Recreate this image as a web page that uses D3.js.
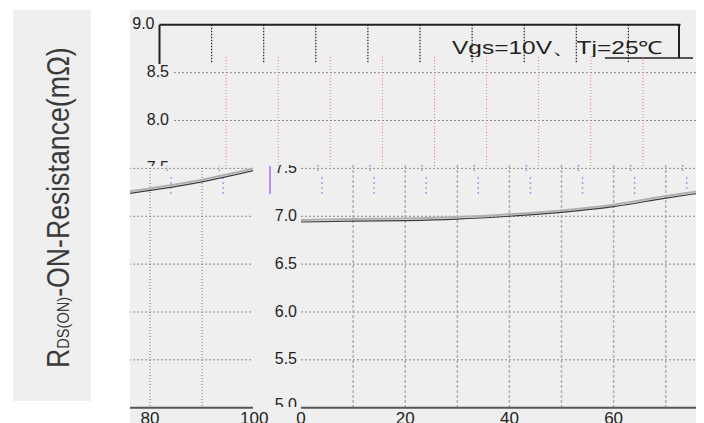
<!DOCTYPE html>
<html><head><meta charset="utf-8">
<script src="https://cdn.jsdelivr.net/npm/d3@7/dist/d3.min.js"></script>
<style>
html,body{margin:0;padding:0;background:#fff;}
svg{display:block;font-family:"Liberation Sans",Arial,sans-serif;}
</style></head>
<body>
<svg id="chart" width="704" height="423"></svg>
<script>
// ---- data ----
const temps = [0, 10, 20, 30, 40, 50, 60, 70, 80, 90, 100];
const rdson = [6.94, 6.95, 6.955, 6.97, 7.0, 7.04, 7.10, 7.19, 7.27, 7.36, 7.48];
const yTicks = [5.0, 5.5, 6.0, 6.5, 7.0, 7.5, 8.0, 8.5, 9.0];
const xTicks = [0, 20, 40, 60, 80, 100];
const xGrid = [10, 20, 30, 40, 50, 60, 70, 80, 90];
const legendText = "Vgs=10V、Tj=25℃";
const yTitleMain = "R";
const yTitleSub = "DS(ON)";
const yTitleRest = "-ON-Resistance(mΩ)";

const svg = d3.select("#chart");
const fmt = d3.format(".1f");
const y = d3.scaleLinear().domain([5, 9]).range([407.7, 24.8]);
const plotW = 521;
const xs = left => d3.scaleLinear().domain([0, 100]).range([left, left + plotW]);

const defs = svg.append("defs");
function clip(id, x, yy, w, h) {
  defs.append("clipPath").attr("id", id).append("rect")
    .attr("x", x).attr("y", yy).attr("width", w).attr("height", h);
  return `url(#${id})`;
}

// backgrounds
svg.append("rect").attr("x", 13).attr("y", 10).attr("width", 78).attr("height", 391).attr("fill", "#efefef");
svg.append("rect").attr("x", 130).attr("y", 10).attr("width", 566).attr("height", 413).attr("fill", "#efefef");

// y title
const yt = svg.append("text")
  .attr("transform", "translate(68.5,368) rotate(-90) scale(0.86,1)")
  .attr("fill", "#3a3a3a").attr("font-size", 31);
yt.append("tspan").text(yTitleMain);
yt.append("tspan").attr("font-size", 17).text(yTitleSub);
yt.append("tspan").text(yTitleRest);

const line = x => d3.line().x((d, i) => x(temps[i])).y(d => y(d)).curve(d3.curveMonotoneX);

// ---------- top slice (frame, ticks, 9.0) ----------
{
  const x = xs(159.5);
  const g = svg.append("g").attr("clip-path", clip("cTop", 130, 10, 566, 54));
  g.selectAll("line.tk").data(xGrid).join("line")
    .attr("x1", d => x(d)).attr("x2", d => x(d)).attr("y1", y(9)).attr("y2", 63)
    .attr("stroke", "#222").attr("stroke-width", 1.2).attr("stroke-dasharray", "1.5,1.5");
  g.append("line").attr("x1", x(0)).attr("x2", x(100)).attr("y1", y(9)).attr("y2", y(9))
    .attr("stroke", "#222").attr("stroke-width", 2);
  g.append("line").attr("x1", x(0)).attr("x2", x(0)).attr("y1", y(9)).attr("y2", 66)
    .attr("stroke", "#222").attr("stroke-width", 2);
  g.append("line").attr("x1", x(100) - 1.5).attr("x2", x(100) - 1.5).attr("y1", y(9)).attr("y2", 58)
    .attr("stroke", "#222").attr("stroke-width", 2);
  g.selectAll("text").data(yTicks.filter(d => d === 9)).join("text")
    .attr("x", x(0) - 5).attr("y", d => y(d) - 1).attr("dy", "0.35em")
    .attr("text-anchor", "end").attr("font-size", 16).attr("fill", "#222").text(fmt);
  const lg = svg.append("g").attr("clip-path", clip("cLeg", 130, 10, 566, 47));
  lg.append("text").attr("x", 452).attr("y", 53.5).attr("font-size", 18).attr("fill", "#222")
    .attr("textLength", 211).attr("lengthAdjust", "spacingAndGlyphs").text(legendText);
  svg.append("line").attr("x1", 605).attr("x2", 693).attr("y1", 58).attr("y2", 58)
    .attr("stroke", "#222").attr("stroke-width", 1.5);
}

// ---------- upper slice (red verticals, 8.5 / 8.0) ----------
{
  const x = xs(174);
  const g = svg.append("g").attr("clip-path", clip("cRed", 130, 57, 566, 109));
  g.selectAll("line.h").data(yTicks.filter(d => d >= 7.5 && d <= 8.5)).join("line")
    .attr("x1", x(0)).attr("x2", 696).attr("y1", d => y(d)).attr("y2", d => y(d))
    .attr("stroke", "#8a8a8a").attr("stroke-dasharray", "2,2");
  g.selectAll("line.v").data(xGrid).join("line")
    .attr("x1", d => x(d)).attr("x2", d => x(d)).attr("y1", 57).attr("y2", 166)
    .attr("stroke", "#e77a7a").attr("stroke-dasharray", "1,2");
  g.selectAll("text").data(yTicks.filter(d => d >= 7.5 && d <= 8.5)).join("text")
    .attr("x", x(0) - 5).attr("y", d => y(d) - 1).attr("dy", "0.35em")
    .attr("text-anchor", "end").attr("font-size", 16).attr("fill", "#222").text(fmt);
}

// ---------- plot body drawer ----------
function body(g, x, vGridData, vStyle) {
  g.selectAll("line.h").data(yTicks.filter(d => d > 5 && d <= 7.5)).join("line").attr("class", "h")
    .attr("x1", x(0)).attr("x2", x(100)).attr("y1", d => y(d)).attr("y2", d => y(d))
    .attr("stroke", "#8a8a8a").attr("stroke-dasharray", "2,2");
  g.selectAll("line.v").data(vGridData).join("line").attr("class", "v")
    .attr("x1", d => x(d)).attr("x2", d => x(d)).attr("y1", 165).attr("y2", y(5))
    .attr("stroke", vStyle.color).attr("stroke-width", vStyle.w).attr("stroke-dasharray", vStyle.dash);
  // purple ghost ticks
  g.selectAll("line.p1").data([0].concat(xGrid)).join("line").attr("class", "p1")
    .attr("x1", d => x(d) + 17).attr("x2", d => x(d) + 17).attr("y1", 165).attr("y2", 173)
    .attr("stroke", "#a779ee").attr("stroke-width", 1.5).attr("stroke-dasharray", "1.5,3");
  g.selectAll("line.p2").data([0].concat(xGrid)).join("line").attr("class", "p2")
    .attr("x1", d => x(d) + 21).attr("x2", d => x(d) + 21).attr("y1", 177).attr("y2", 195)
    .attr("stroke", "#b795ee").attr("stroke-width", 1.5).attr("stroke-dasharray", "2,3");
  // curve (double stroke)
  g.append("path").datum(rdson).attr("d", line(x)).attr("fill", "none")
    .attr("stroke", "#b0b0b0").attr("stroke-width", 2).attr("transform", "translate(0,-2)");
  g.append("path").datum(rdson).attr("d", line(x)).attr("fill", "none")
    .attr("stroke", "#3c3c3c").attr("stroke-width", 1.2);
  // bottom axis line
  g.append("line").attr("x1", x(0)).attr("x2", x(100)).attr("y1", y(5)).attr("y2", y(5))
    .attr("stroke", "#555").attr("stroke-width", 2);
}

// ---------- left fragment (80..100) ----------
{
  const x = xs(150 - 80 * plotW / 100);
  const g = svg.append("g").attr("clip-path", clip("cLF", 130, 166, 123, 244));
  body(g, x, xGrid, {color: "#777", w: 1, dash: "1,2"});
  const lg = svg.append("g").attr("clip-path", clip("cLFl", 130, 409, 160, 14));
  lg.selectAll("text").data(xTicks.filter(d => d >= 80)).join("text")
    .attr("x", d => x(d)).attr("y", 424).attr("text-anchor", "middle")
    .attr("font-size", 17).attr("fill", "#222").text(d => d);
}

// ---------- main fragment (0..75) ----------
{
  const x = xs(301);
  const g = svg.append("g").attr("clip-path", clip("cMain", 253, 165, 443, 245));
  body(g, x, xGrid, {color: "#b0b0b0", w: 1.5, dash: "3,2"});
  const tl = svg.append("g").attr("clip-path", clip("cMainY", 253, 165, 50, 242));
  tl.selectAll("text").data(yTicks.filter(d => d <= 7.5)).join("text")
    .attr("x", x(0) - 4).attr("y", d => y(d) - (d === 5 ? 3 : 1)).attr("dy", "0.35em")
    .attr("text-anchor", "end").attr("font-size", 16).attr("fill", "#222").text(fmt);
  const xl = svg.append("g").attr("clip-path", clip("cMainX", 290, 409, 406, 14));
  xl.selectAll("text").data(xTicks.filter(d => d <= 60)).join("text")
    .attr("x", d => x(d)).attr("y", 424).attr("text-anchor", "middle")
    .attr("font-size", 17).attr("fill", "#222").text(d => d);
  // purple bar beside 7.5 label
  svg.append("line").attr("x1", 270).attr("x2", 270).attr("y1", 166).attr("y2", 194)
    .attr("stroke", "#b692ee").attr("stroke-width", 2);
}
</script>
</body></html>
